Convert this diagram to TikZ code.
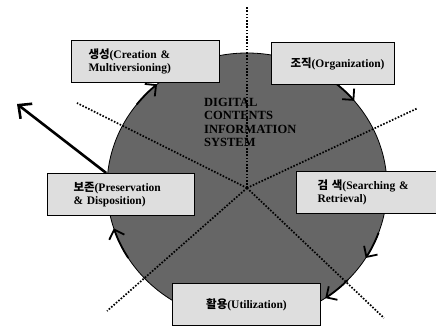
\documentclass[tikz,border=0pt]{standalone}
\usepackage{fontspec}
\setmainfont{Liberation Serif}
\newfontfamily\kr{Noto Sans CJK KR}
\usetikzlibrary{arrows.meta,calc}
\begin{document}
\begin{tikzpicture}[x=1pt,y=-1pt,
  box/.style={draw=black, line width=1pt, fill=black!13, rectangle, anchor=north west,
    align=left, font=\bfseries\fontsize{11.5}{12.5}\selectfont, minimum height=42pt, inner ysep=0pt},
  dots/.style={line width=1.7pt, dash pattern=on 1.6pt off 1.6pt},
  cw/.style={line width=1.8pt, -{Straight Barb[length=8pt,width=16pt]}},
  bigarrow/.style={line width=2.6pt, -{Straight Barb[length=10pt,width=19pt]}}
]
\useasboundingbox (0,0) rectangle (436,328);
% disc
\coordinate (o) at (247,187);
\filldraw[fill=black!60, draw=black, line width=0.8pt] (o) ellipse [x radius=140, y radius=134];
% dotted spokes
\coordinate (c) at (247,188);
\coordinate (n) at (247,6);
\coordinate (nw) at (77,103);
\coordinate (ne) at (418,108);
\coordinate (sw) at (107,311);
\coordinate (se) at (384,318);
\foreach \p in {n,nw,ne,sw,se} \draw[dots] (c) -- (\p);
% clockwise arrows on the rim
\foreach \s/\t in {-142/-130,-52/-40,20/32,44/56,148/162}
  \draw[cw] ([shift={(\s:140 and 134)}]o) arc[start angle=\s, end angle=\t, x radius=140, y radius=134];
% title
\node[anchor=north west, align=left, inner sep=0pt,
  font=\bfseries\fontsize{12.5}{13.5}\selectfont] (title) at (204,98)
  {DIGITAL\\CONTENTS\\INFORMATION\\SYSTEM};
% boxes
\node[box, inner xsep=26pt, text width=95pt] (pre) at (47,173)
  {{\kr 보존}(Preservation\\\& Disposition)};
\node[box, inner xsep=17pt, text width=114pt] (cre) at (71,40)
  {{\kr 생성}(Creation \&\\Multiversioning)};
\node[box, inner xsep=19pt, text width=85pt] (org) at (271,42)
  {{\kr 조직}(Organization)};
\node[box, inner xsep=21pt, text width=98pt] (sea) at (296,171)
  {{\kr 검 색}(Searching \&\\Retrieval)};
\node[box, inner xsep=10pt, text width=128pt, align=center] (uti) at (172,283)
  {{\kr 활용}(Utilization)};
% outward arrow
\coordinate (tipL) at (17,104);
\draw[bigarrow] ($(pre.north west)!0.4!(pre.north east)$) -- (tipL);
\end{tikzpicture}
\end{document}
